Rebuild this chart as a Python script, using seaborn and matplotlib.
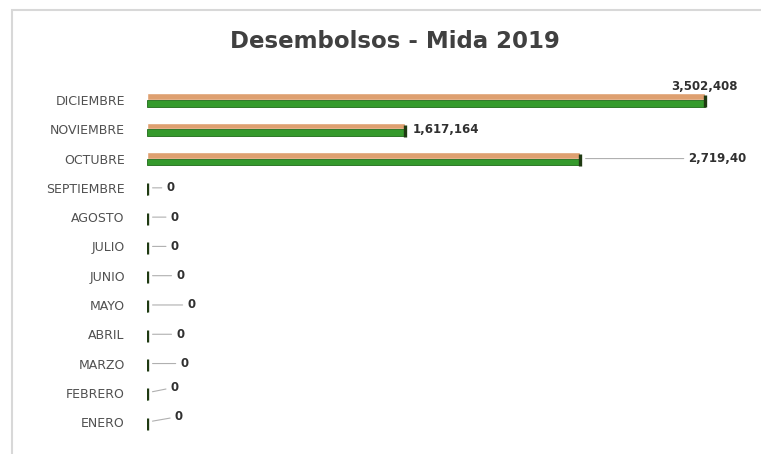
#!/usr/bin/env python3
"""Desembolsos - Mida 2019: horizontal bar chart by month."""
import matplotlib
matplotlib.use("Agg")
import matplotlib.pyplot as plt
from matplotlib.patches import Rectangle
import numpy as np
import pandas as pd
import seaborn as sns

# data, top to bottom as shown
months = ["DICIEMBRE", "NOVIEMBRE", "OCTUBRE", "SEPTIEMBRE", "AGOSTO", "JULIO",
          "JUNIO", "MAYO", "ABRIL", "MARZO", "FEBRERO", "ENERO"]
amounts = [3502408, 1617164, 2719400, 0, 0, 0, 0, 0, 0, 0, 0, 0]
label_texts = ["3,502,408", "1,617,164", "2,719,40", "0", "0", "0",
               "0", "0", "0", "0", "0", "0"]

# label layout (offset in points from the bar end), leader line on/off
label_offsets = [(0, 10), (6, 0), (78, 0), (14, 0), (17, 0), (17, 0),
                 (21, 0), (29, 0), (21, 0), (24, 0), (17, 4), (20, 4)]
label_leader = [False, False, True, True, True, True,
                True, True, True, True, True, True]

ORANGE = "#dea070"
GREEN = "#359a2c"

df = pd.DataFrame({
    "mes": months * 2,
    "monto": amounts * 2,
    "cara": ["arriba"] * len(months) + ["frente"] * len(months),
})

sns.set_style("white")
plt.rcParams["font.family"] = ["DejaVu Sans"]

fig = plt.figure(figsize=(7.61, 4.54), dpi=100)
ax = fig.add_axes([147 / 761, 0.038, 637 / 761, 0.774])

sns.barplot(data=df, x="monto", y="mes", hue="cara", order=months,
            hue_order=["arriba", "frente"], palette=[ORANGE, GREEN],
            orient="h", width=0.46, ax=ax, legend=False, saturation=1)

# darker lower edge on the green face
for bar in ax.patches[len(months):]:
    bar.set_edgecolor("#1f6a18")
    bar.set_linewidth(0.6)

# dark end caps of the 3D bars
ax.scatter(amounts, np.arange(len(months)) + 0.05, marker="|", s=80,
           color="#1f3a12", linewidths=2.4, zorder=4)

ax.set_xlim(0, 4000000)
ax.set_ylim(len(months) - 0.5, -0.5)
ax.set_xlabel("")
ax.set_ylabel("")
ax.set_xticks([])
ax.tick_params(axis="y", length=0, pad=16, labelsize=9, labelcolor="#505050")
for s in ax.spines.values():
    s.set_visible(False)

for i, (val, txt) in enumerate(zip(amounts, label_texts)):
    dx, dy = label_offsets[i]
    ha = "center" if i == 0 else "left"
    arrow = dict(arrowstyle="-", color="#b0b0b0", lw=0.8,
                 shrinkA=1, shrinkB=4) if label_leader[i] else None
    ax.annotate(txt, xy=(val, i), xytext=(dx, dy), textcoords="offset points",
                ha=ha, va="center", fontsize=8.5, fontweight="bold",
                color="#303030", arrowprops=arrow, annotation_clip=False)

fig.text(395 / 761, 1 - 42 / 454, "Desembolsos - Mida 2019", ha="center",
         va="center", fontsize=16.5, fontweight="bold", color="#404040")

# light chart frame
fig.patches.append(Rectangle((12 / 761, -0.1), 1.0, 1 - 10 / 454 + 0.1,
                             transform=fig.transFigure, fill=False,
                             edgecolor="#d8d8d8", lw=1.5))

fig.savefig("out.png", dpi=100)
plt.close(fig)
